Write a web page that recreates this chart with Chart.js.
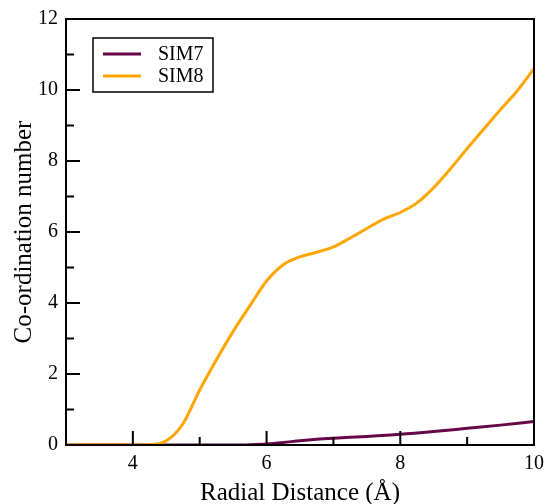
<!DOCTYPE html>
<html>
<head>
<meta charset="utf-8">
<script src="https://cdn.jsdelivr.net/npm/chart.js@4.4.1/dist/chart.umd.min.js"></script>
<style>
  html, body { margin: 0; padding: 0; background: #ffffff; }
  canvas { display: block; }
</style>
</head>
<body>
<canvas id="cn" width="544" height="504"></canvas>
<script>
// Cumulative co-ordination number vs. radial distance
const sim7X = [3.0, 3.5, 4.0, 4.5, 5.0, 5.5, 5.75, 6.0, 6.25, 6.5, 6.75, 7.0, 7.5, 8.0, 8.5, 9.0, 9.5, 10.0];
const sim7Y = [0, 0, 0, 0, 0, 0, 0.01, 0.03, 0.07, 0.12, 0.16, 0.19, 0.24, 0.30, 0.38, 0.47, 0.56, 0.66];

const sim8X = [3.0, 3.5, 4.0, 4.25, 4.5, 4.75, 5.0, 5.25, 5.5, 5.75, 6.0, 6.25, 6.5, 6.75, 7.0,
               7.25, 7.5, 7.75, 8.0, 8.25, 8.5, 8.75, 9.0, 9.25, 9.5, 9.75, 10.0];
const sim8Y = [0, 0, 0, 0.01, 0.12, 0.60, 1.55, 2.40, 3.20, 3.92, 4.62, 5.08, 5.30, 5.43, 5.58,
               5.83, 6.10, 6.36, 6.55, 6.82, 7.25, 7.78, 8.35, 8.90, 9.45, 9.98, 10.60];

const seriesNames = ['SIM7', 'SIM8'];
const seriesColors = ['#670748', '#ffa500'];

const xMajor = [4, 6, 8, 10];
const xMinor = [5, 7, 9];
const yMajor = [0, 2, 4, 6, 8, 10, 12];
const yMinor = [1, 3, 5, 7, 9, 11];

const FONT = '"Liberation Serif", "Times New Roman", serif';

const toPoints = (xs, ys) => xs.map((x, i) => ({ x: x, y: ys[i] }));

// Inward tick marks, closed frame and boxed legend
const framePlugin = {
  id: 'frame',
  afterDraw(chart) {
    const ctx = chart.ctx;
    const a = chart.chartArea;
    const xs = chart.scales.x, ys = chart.scales.y;
    ctx.save();
    ctx.strokeStyle = '#000';
    ctx.lineWidth = 2;
    ctx.lineCap = 'butt';
    ctx.beginPath();
    xMajor.forEach(v => { const p = xs.getPixelForValue(v); ctx.moveTo(p, a.bottom); ctx.lineTo(p, a.bottom - 14); });
    xMinor.forEach(v => { const p = xs.getPixelForValue(v); ctx.moveTo(p, a.bottom); ctx.lineTo(p, a.bottom - 8); });
    yMajor.forEach(v => { const p = ys.getPixelForValue(v); ctx.moveTo(a.left, p); ctx.lineTo(a.left + 14, p); });
    yMinor.forEach(v => { const p = ys.getPixelForValue(v); ctx.moveTo(a.left, p); ctx.lineTo(a.left + 8, p); });
    ctx.stroke();
    ctx.strokeRect(a.left, a.top, a.right - a.left, a.bottom - a.top);

    // legend box
    const lx = a.left + 27, ly = a.top + 19, lw = 120, lh = 54;
    ctx.fillStyle = '#fff';
    ctx.fillRect(lx, ly, lw, lh);
    ctx.lineWidth = 1.5;
    ctx.strokeRect(lx, ly, lw, lh);
    ctx.font = '20px ' + FONT;
    ctx.textBaseline = 'middle';
    ctx.textAlign = 'left';
    chart.data.datasets.forEach((ds, i) => {
      const yy = ly + 16 + i * 22;
      ctx.strokeStyle = ds.borderColor;
      ctx.lineWidth = 3;
      ctx.beginPath();
      ctx.moveTo(lx + 10, yy);
      ctx.lineTo(lx + 48, yy);
      ctx.stroke();
      ctx.fillStyle = '#000';
      ctx.fillText(ds.label, lx + 65, yy + 1);
    });
    ctx.restore();
  }
};

new Chart(document.getElementById('cn'), {
  type: 'line',
  data: {
    datasets: [
      { label: seriesNames[0], data: toPoints(sim7X, sim7Y), borderColor: seriesColors[0],
        borderWidth: 3, pointRadius: 0, tension: 0.4, cubicInterpolationMode: 'monotone', order: 1 },
      { label: seriesNames[1], data: toPoints(sim8X, sim8Y), borderColor: seriesColors[1],
        borderWidth: 3, pointRadius: 0, tension: 0.4, cubicInterpolationMode: 'monotone', order: 0 }
    ]
  },
  options: {
    responsive: false,
    animation: false,
    devicePixelRatio: 1,
    layout: { padding: { top: 19, right: 10, left: 0, bottom: 0 } },
    plugins: { legend: { display: false }, tooltip: { enabled: false } },
    scales: {
      x: {
        type: 'linear', min: 3, max: 10,
        grid: { display: false, drawTicks: false }, border: { display: false },
        afterBuildTicks(s) { s.ticks = xMajor.map(v => ({ value: v })); },
        afterFit(s) { s.height = 59; s.paddingLeft = 0; s.paddingRight = 0; },
        ticks: { color: '#000', padding: 7, maxRotation: 0, font: { family: FONT, size: 20 } },
        title: { display: true, text: 'Radial Distance (Å)', color: '#000',
                 font: { family: FONT, size: 25 }, padding: { top: 0, bottom: -4 } }
      },
      y: {
        type: 'linear', min: 0, max: 12,
        grid: { display: false, drawTicks: false }, border: { display: false },
        afterBuildTicks(s) { s.ticks = yMajor.map(v => ({ value: v })); },
        afterFit(s) { s.width = 66; s.paddingTop = 0; s.paddingBottom = 0; },
        ticks: { color: '#000', padding: 8, font: { family: FONT, size: 20 } },
        title: { display: true, text: 'Co-ordination number', color: '#000',
                 font: { family: FONT, size: 25 }, padding: { top: 9, bottom: 0 } }
      }
    }
  },
  plugins: [framePlugin]
});
</script>
</body>
</html>
